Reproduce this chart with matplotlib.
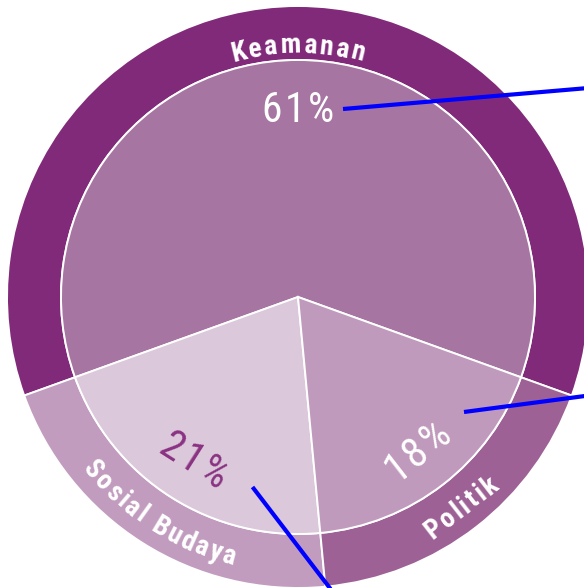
import matplotlib

matplotlib.use("Agg")
import matplotlib.pyplot as plt
import numpy as np
from matplotlib.font_manager import FontProperties, findfont
from matplotlib.textpath import TextToPath

# data
CATEGORIES = ["Keamanan", "Sosial Budaya", "Politik"]
SHARES = [61, 21, 18]
PCT_LABELS = ["61%", "21%", "18%"]

OUTER_COLORS = ["#822a7a", "#c19cbf", "#9d6195"]
INNER_COLORS = ["#a675a1", "#dbc8da", "#c09abc"]
PCT_COLORS = ["white", "#8a3282", "white"]

# layout (pixel units, y up)
DPI = 100
W, H = 584, 588
CX, CY = 298, 291
R_OUT, R_IN = 291, 237
START_ANGLE = -19.8
PCT_RADIUS = 191
LEADERS = [
    ((343, 479), (600, 501)),
    ((464, 176), (600, 194)),
    ((252.5, 101), (339, -12)),
]


def pick_font():
    """Prefer a condensed face; fall back to Roboto."""
    tries = [
        dict(family="Roboto Condensed"),
        dict(family="Liberation Sans Narrow"),
        dict(family="Roboto", stretch="condensed"),
        dict(family="Noto Sans", stretch="condensed"),
        dict(family="Open Sans", stretch="condensed"),
        dict(family="DejaVu Sans", stretch="condensed"),
    ]
    for kw in tries:
        try:
            path = findfont(FontProperties(**kw), fallback_to_default=False)
        except ValueError:
            continue
        low = path.lower()
        if "condensed" in low or "narrow" in low:
            return kw
    return dict(family="Roboto")


FONT = pick_font()
T2P = TextToPath()


def advance(s, prop):
    w, _, _ = T2P.get_text_width_height_descent(s, prop, ismath=False)
    return w * DPI / 72.0


def spaced_text(ax, text, x, y, rot, prop, color, tracking):
    """Straight text with extra letter spacing, anchored at its centre."""
    n = len(text)
    total = advance(text, prop) + tracking * (n - 1)
    ux, uy = np.cos(np.radians(rot)), np.sin(np.radians(rot))
    for i, ch in enumerate(text):
        c = advance(text[:i + 1], prop) - advance(ch, prop) / 2 + tracking * i
        d = c - total / 2
        ax.text(x + d * ux, y + d * uy, ch, rotation=rot,
                rotation_mode="anchor", ha="center", va="center_baseline",
                fontproperties=prop, color=color, zorder=5)


def curved_text(ax, text, r, theta_deg, prop, color, tracking=0.0, top=True):
    n = len(text)
    total = advance(text, prop) + tracking * (n - 1)
    for i, ch in enumerate(text):
        if ch == " ":
            continue
        c = advance(text[:i + 1], prop) - advance(ch, prop) / 2 + tracking * i
        off = (c - total / 2) / r
        if top:
            th = np.radians(theta_deg) - off
            rot = np.degrees(th) - 90
        else:
            th = np.radians(theta_deg) + off
            rot = np.degrees(th) + 90
        ax.text(CX + r * np.cos(th), CY + r * np.sin(th), ch, rotation=rot,
                rotation_mode="anchor", ha="center", va="baseline",
                fontproperties=prop, color=color, zorder=5)


fig = plt.figure(figsize=(W / DPI, H / DPI), dpi=DPI)
ax = fig.add_axes([0, 0, 1, 1])

edge = dict(edgecolor="white", linewidth=1.4)
ax.pie(SHARES, radius=R_OUT, center=(CX, CY), startangle=START_ANGLE,
       colors=OUTER_COLORS, wedgeprops=dict(width=R_OUT - R_IN, **edge))
wedges, _ = ax.pie(SHARES, radius=R_IN, center=(CX, CY),
                   startangle=START_ANGLE, colors=INNER_COLORS,
                   wedgeprops=edge)

mids = [(w.theta1 + w.theta2) / 2 for w in wedges]

pct_prop = FontProperties(size=30, **FONT)
for label, color, mid in zip(PCT_LABELS, PCT_COLORS, mids):
    th = np.radians(mid)
    rot = mid - 90 if np.sin(th) > 0 else mid + 90
    spaced_text(ax, label, CX + PCT_RADIUS * np.cos(th),
                CY + PCT_RADIUS * np.sin(th), rot, pct_prop, color, 2.5)

name_prop = FontProperties(size=20, weight="bold", **FONT)
curved_text(ax, CATEGORIES[0], 244, mids[0], name_prop, "white",
            tracking=2.2, top=True)
curved_text(ax, CATEGORIES[1], 276, mids[1], name_prop, "white",
            tracking=2.2, top=False)
th = np.radians(mids[2])
spaced_text(ax, CATEGORIES[2], CX + 264 * np.cos(th), CY + 264 * np.sin(th),
            mids[2] + 90, name_prop, "white", 2.2)

for (x0, y0), (x1, y1) in LEADERS:
    ax.plot([x0, x1], [y0, y1], color="#0000ff", lw=3.0,
            solid_capstyle="butt", zorder=6)

ax.set_xlim(0, W)
ax.set_ylim(0, H)
ax.set_aspect("equal")
ax.axis("off")
fig.savefig("out.png", dpi=DPI, facecolor="white")
